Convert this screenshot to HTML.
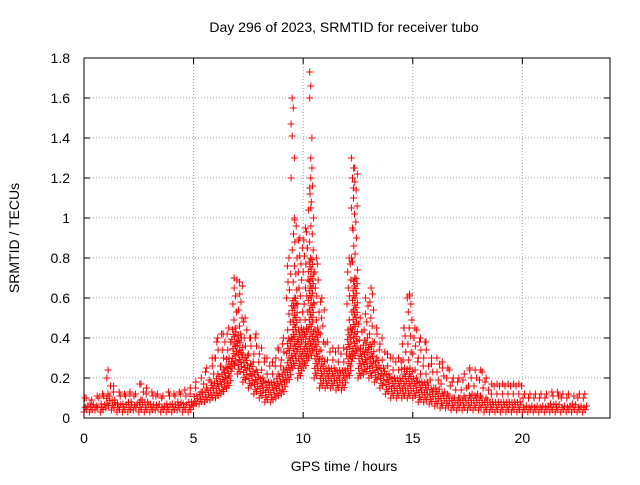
<!DOCTYPE html>
<html><head><meta charset="utf-8"><style>
body{margin:0;background:#fff;}
svg text{font-family:"Liberation Sans",sans-serif;fill:#000;}
</style></head><body>
<svg id="chart" width="640" height="480">
<text x="344" y="32" font-size="14" text-anchor="middle">Day 296 of 2023, SRMTID for receiver tubo</text>
<text x="344" y="471" font-size="14" text-anchor="middle">GPS time / hours</text>
<text transform="translate(19,238) rotate(-90)" font-size="14" text-anchor="middle">SRMTID / TECUs</text>
<g id="grid"></g><g id="ticks"></g><g id="pts"></g>
<rect x="84" y="58" width="526" height="360" fill="none" stroke="#000"/>
</svg>
<script>
const xTicks=[0,5,10,15,20];
const yTicks=[0,0.2,0.4,0.6,0.8,1,1.2,1.4,1.6,1.8];
const yLabels=["0","0.2","0.4","0.6","0.8","1","1.2","1.4","1.6","1.8"];
const step=0.25;
const lowVals=[.03,.03,.04,.03,.05,.04,.03,.03,.03,.04,.03,.03,.03,.04,.03,.03,.03,.04,.03,.03,.06,.07,.08,.09,.10,.12,.15,.25,.22,.18,.15,.12,.10,.08,.08,.10,.12,.18,.25,.20,.25,.30,.20,.15,.15,.15,.14,.14,.20,.30,.20,.22,.20,.18,.15,.12,.10,.10,.10,.10,.10,.08,.08,.07,.06,.05,.05,.04,.04,.04,.04,.04,.04,.03,.03,.03,.03,.03,.03,.03,.03,.03,.03,.03,.03,.03,.03,.03,.03,.03,.03,.03];
const midVals=[.06,.07,.06,.07,.12,.09,.07,.07,.08,.07,.09,.08,.07,.07,.06,.07,.07,.08,.07,.08,.11,.13,.15,.18,.22,.26,.30,.45,.42,.32,.28,.24,.20,.18,.18,.22,.25,.40,.60,.45,.45,.80,.45,.30,.25,.25,.24,.24,.45,.70,.35,.40,.38,.30,.25,.22,.20,.20,.25,.25,.20,.18,.18,.15,.15,.13,.12,.10,.10,.11,.12,.12,.11,.10,.08,.08,.08,.08,.08,.08,.06,.06,.06,.06,.06,.07,.07,.06,.06,.07,.06,.06];
const highVals=[.10,.09,.11,.12,.24,.16,.13,.12,.13,.12,.17,.15,.13,.12,.11,.13,.12,.13,.14,.15,.18,.20,.25,.30,.40,.42,.45,.70,.68,.50,.40,.42,.35,.30,.28,.35,.40,.80,1.00,.90,.95,1.20,.80,.60,.38,.35,.35,.35,.80,1.25,.50,.60,.65,.45,.40,.32,.30,.30,.45,.62,.45,.40,.38,.30,.30,.28,.25,.20,.20,.22,.25,.24,.24,.20,.17,.17,.17,.17,.17,.17,.12,.12,.12,.12,.12,.13,.13,.12,.12,.11,.12,.12];
const spikeT=[9.5,9.55,9.45,9.5,9.6,9.45,10.3,10.35,10.3,10.4,10.35,10.4,10.3,10.35,12.2,12.3,12.25,12.3,12.2,12.25,9.6,10.2,12.2,14.75];
const spikeV=[1.6,1.55,1.47,1.41,1.3,1.2,1.73,1.66,1.6,1.4,1.3,1.25,1.15,1.05,1.3,1.25,1.2,1.15,1.05,0.95,0.99,0.85,0.8,0.6];
const X=t=>84+t*(526/24), Y=v=>418-v*200;
const NS="http://www.w3.org/2000/svg";
const grid=document.getElementById('grid'),ticks=document.getElementById('ticks'),pts=document.getElementById('pts');
function mk(tag,a,p){const e=document.createElementNS(NS,tag);for(const k in a)e.setAttribute(k,a[k]);p.appendChild(e);return e;}
xTicks.forEach(t=>{const x=X(t);
 const g=mk('line',{x1:x,x2:x,y1:58,y2:418,stroke:'#a0a0a0','stroke-dasharray':'1,2'},grid);
 
 
 mk('line',{x1:x,x2:x,y1:418,y2:412,stroke:'#000'},ticks);
 mk('line',{x1:x,x2:x,y1:58,y2:64,stroke:'#000'},ticks);
 const l=mk('text',{x:x,y:443,'font-size':14,'text-anchor':'middle'},ticks);l.textContent=t;
 
 });
yTicks.forEach((v,i)=>{const y=Y(v);
 const g=mk('line',{x1:84,x2:610,y1:y,y2:y,stroke:'#a0a0a0','stroke-dasharray':'1,2'},grid);
 
 
 mk('line',{x1:84,x2:90,y1:y,y2:y,stroke:'#000'},ticks);
 mk('line',{x1:604,x2:610,y1:y,y2:y,stroke:'#000'},ticks);
 const l=mk('text',{x:70,y:y+5,'font-size':14,'text-anchor':'end'},ticks);l.textContent=yLabels[i];
 
 });
let dpath='';
function plus(t,v){const x=X(t),y=Y(v);dpath+=`M${(x-3.5).toFixed(1)},${y.toFixed(1)}h7M${x.toFixed(1)},${(y-3.5).toFixed(1)}v7`;}
const offs=[0,0.12,0.06,0.18,0.03,0.15,0.09,0.21,0.045,0.165,0.105,0.225];
lowVals.forEach((lo,i)=>{
 const t0=i*step, hi=highVals[i], mid=midVals[i];
 let k=0;
 for(let v=lo; v<=mid; v+=0.012){plus(t0+offs[k%12],v);k++;}
 for(let v=mid; v<=hi; v+=0.04){plus(t0+offs[k%12],v);k++;}
 plus(t0+0.1,hi);
});
spikeT.forEach((t,i)=>plus(t,spikeV[i]));
const p=mk('path',{d:dpath,stroke:'#f00','stroke-width':1,fill:'none'},pts);


</script>
</body></html>
